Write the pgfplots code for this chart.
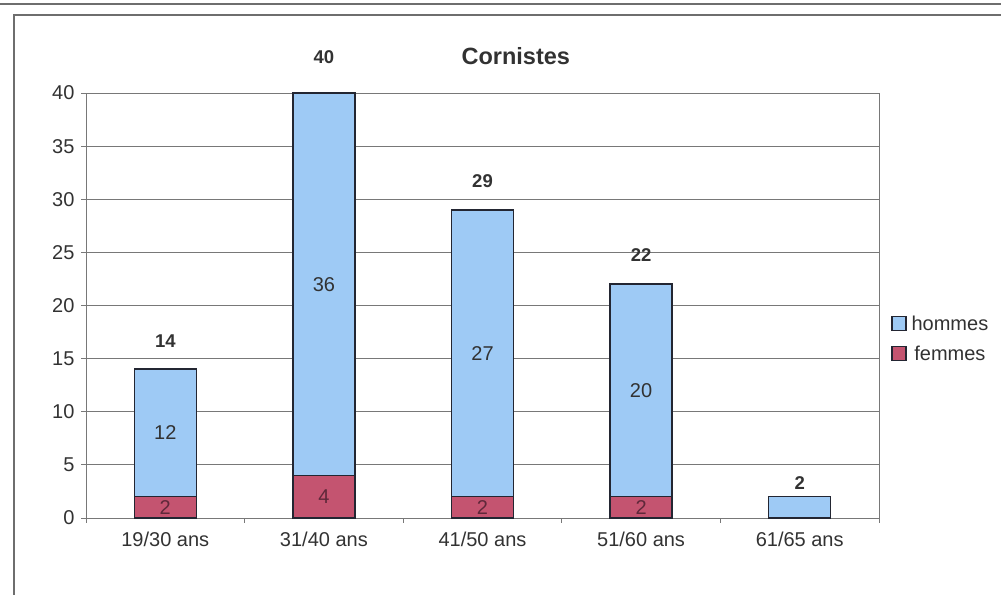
\documentclass[border=0pt]{standalone}
\usepackage{fontspec}
\setmainfont{Liberation Sans}
\usepackage{pgfplots}
\pgfplotsset{compat=1.18}
\definecolor{hommes}{RGB}{158,202,245}
\definecolor{femmes}{RGB}{196,84,112}
\definecolor{barline}{RGB}{35,38,50}
\definecolor{gridc}{RGB}{120,120,120}
\definecolor{txt}{RGB}{50,50,50}
\definecolor{ftxt}{RGB}{95,40,58}
\definecolor{framec}{RGB}{110,110,110}
\newcommand{\tfont}{\fontsize{20bp}{23bp}\selectfont}

\begin{document}
\begin{tikzpicture}
\useasboundingbox (0bp,0bp) rectangle (1001bp,595bp);
\draw[framec, line width=1.4bp] (0bp,591bp) -- (1001bp,591bp);
\draw[framec, line width=1.4bp] (14bp,0bp) -- (14bp,580bp) -- (1001bp,580bp);

\begin{axis}[
  at={(86bp,77bp)}, anchor=south west,
  scale only axis, width=793bp, height=425bp,
  xmin=-0.5, xmax=4.5, ymin=0, ymax=40,
  ybar stacked, bar width=62bp,
  ytick={0,5,...,40},
  xtick={0,1,2,3,4},
  xticklabels={19/30 ans,31/40 ans,41/50 ans,51/60 ans,61/65 ans},
  minor xtick={-0.5,0.5,1.5,2.5,3.5,4.5},
  xtick pos=bottom, ytick pos=left,
  major x tick style={draw=none},
  minor x tick style={draw=gridc, line width=0.8bp},
  major y tick style={draw=gridc, line width=0.8bp},
  major tick length=5bp, minor tick length=5bp,
  tick align=outside,
  ymajorgrids, y grid style={gridc, line width=0.8bp},
  axis line style={gridc, line width=0.8bp},
  /pgf/number format/assume math mode=true,
  tick label style={font=\tfont, text=txt},
  yticklabel style={xshift=-3bp},
  xticklabel style={yshift=-5bp},
  title={Cornistes},
  title style={at={(0.542,1.052)}, anchor=base, font=\bfseries\fontsize{23.5bp}{26bp}\selectfont, text=txt},
  legend style={at={(1.015,0.422)}, anchor=west, draw=none, fill=none,
    font=\tfont, text=txt, row sep=10bp, inner sep=0pt,
    /tikz/every odd column/.append style={column sep=3bp}},
  reverse legend,
  legend image code/.code={\draw[#1, line width=1.5bp] (0bp,-7bp) rectangle (14bp,7bp);},
  clip=false,
]
\addplot[fill=femmes, draw=barline, line width=1.5bp] coordinates {(0,2) (1,4) (2,2) (3,2) (4,0)};
\addlegendentry{femmes}
\addplot[fill=hommes, draw=barline, line width=1.5bp] coordinates {(0,12) (1,36) (2,27) (3,20) (4,2)};
\addlegendentry{hommes}
\end{axis}

\begin{axis}[
  at={(86bp,77bp)}, anchor=south west,
  scale only axis, width=793bp, height=425bp,
  xmin=-0.5, xmax=4.5, ymin=0, ymax=40,
  hide axis, clip=false,
]
% labels inside hommes segments (segment midpoints)
\addplot[draw=none, nodes near coords, point meta=explicit symbolic,
  every node near coord/.style={anchor=center, font=\tfont, text=txt}]
  coordinates {(0,8)[12] (1,22)[36] (2,15.5)[27] (3,12)[20]};
% labels inside femmes segments
\addplot[draw=none, nodes near coords, point meta=explicit symbolic,
  every node near coord/.style={anchor=center, font=\tfont, text=ftxt}]
  coordinates {(0,1)[2] (1,2)[4] (2,1)[2] (3,1)[2]};
% totals above bars
\addplot[draw=none, nodes near coords, point meta=explicit symbolic,
  every node near coord/.style={anchor=center, font=\bfseries\fontsize{18.5bp}{21bp}\selectfont, text=txt}]
  coordinates {(0,16.6)[14] (1,43.4)[40] (2,31.7)[29] (3,24.75)[22] (4,3.3)[2]};
\end{axis}
\end{tikzpicture}
\end{document}
